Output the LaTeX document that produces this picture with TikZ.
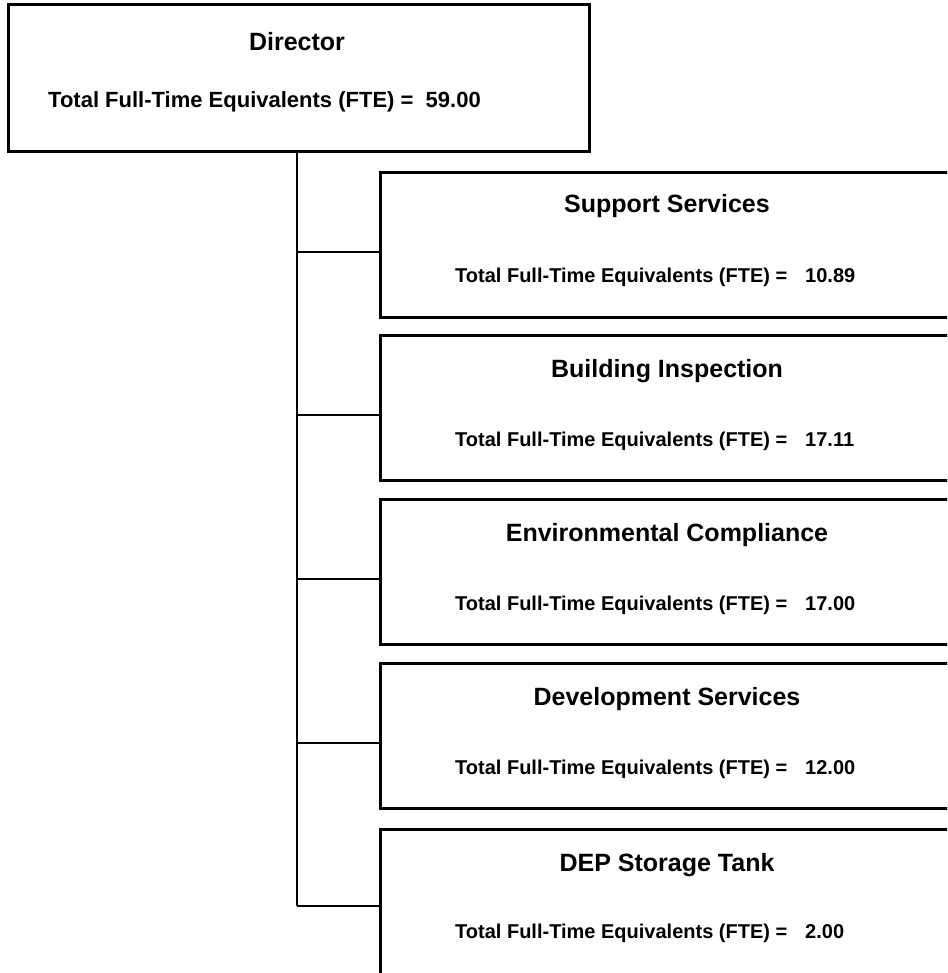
\documentclass[tikz,border=0pt]{standalone}
\usepackage{fontspec}
\setmainfont{Liberation Sans}
\begin{document}
\begin{tikzpicture}[x=1pt,y=-1pt,
  box/.style={draw=black, line width=2.6pt, rectangle, anchor=north west, inner sep=0pt, minimum width=576pt, minimum height=145pt},
  dirbox/.style={draw=black, line width=2.6pt, rectangle, anchor=north west, inner sep=0pt, minimum width=581pt, minimum height=147pt},
  conn/.style={draw=black, line width=2.6pt},
  ttl/.style={inner sep=0pt, anchor=base, font=\bfseries\fontsize{25}{30}\selectfont},
  fte/.style={inner sep=0pt, anchor=base west, font=\bfseries\fontsize{20}{24}\selectfont},
  dfte/.style={inner sep=0pt, anchor=base west, font=\bfseries\fontsize{22}{26}\selectfont}
]
\useasboundingbox (0,0) rectangle (947,973);
\clip (0,0) rectangle (947,973);
\fill[white] (0,0) rectangle (947,973);

% Director
\node[dirbox] (dir) at (7,3) {};
\node[ttl] (dirt) at (297,51) {Director};
\node[dfte] (dirf) at (48,108) {Total Full-Time Equivalents (FTE) =\ \ 59.00};

% children
\node[box] (b1) at (379,171) {};
\node[box] (b2) at (379,334) {};
\node[box] (b3) at (379,498) {};
\node[box] (b4) at (379,662) {};
\node[box, minimum height=152pt] (b5) at (379,828) {};

\node[ttl] (t1) at (667,213) {Support Services};
\node[fte] (f1) at (455,283) {Total Full-Time Equivalents (FTE) =};
\node[fte] (v1) at (805,283) {10.89};

\node[ttl] (t2) at (667,377) {Building Inspection};
\node[fte] (f2) at (455,446) {Total Full-Time Equivalents (FTE) =};
\node[fte] (v2) at (805,446) {17.11};

\node[ttl] (t3) at (667,541) {Environmental Compliance};
\node[fte] (f3) at (455,610) {Total Full-Time Equivalents (FTE) =};
\node[fte] (v3) at (805,610) {17.00};

\node[ttl] (t4) at (667,705) {Development Services};
\node[fte] (f4) at (455,774) {Total Full-Time Equivalents (FTE) =};
\node[fte] (v4) at (805,774) {12.00};

\node[ttl] (t5) at (667,871) {DEP Storage Tank};
\node[fte] (f5) at (455,938) {Total Full-Time Equivalents (FTE) =};
\node[fte] (v5) at (805,938) {2.00};

% connectors
\coordinate (j1) at (297,252);
\coordinate (j2) at (297,415);
\coordinate (j3) at (297,579);
\coordinate (j4) at (297,743);
\coordinate (j5) at (297,906);

\draw[conn] (dir.south -| j5) -- (j5);
\draw[conn] (j1) -- (b1.west |- j1);
\draw[conn] (j2) -- (b2.west |- j2);
\draw[conn] (j3) -- (b3.west |- j3);
\draw[conn] (j4) -- (b4.west |- j4);
\draw[conn] (j5) -- (b5.west |- j5);
\end{tikzpicture}
\end{document}
